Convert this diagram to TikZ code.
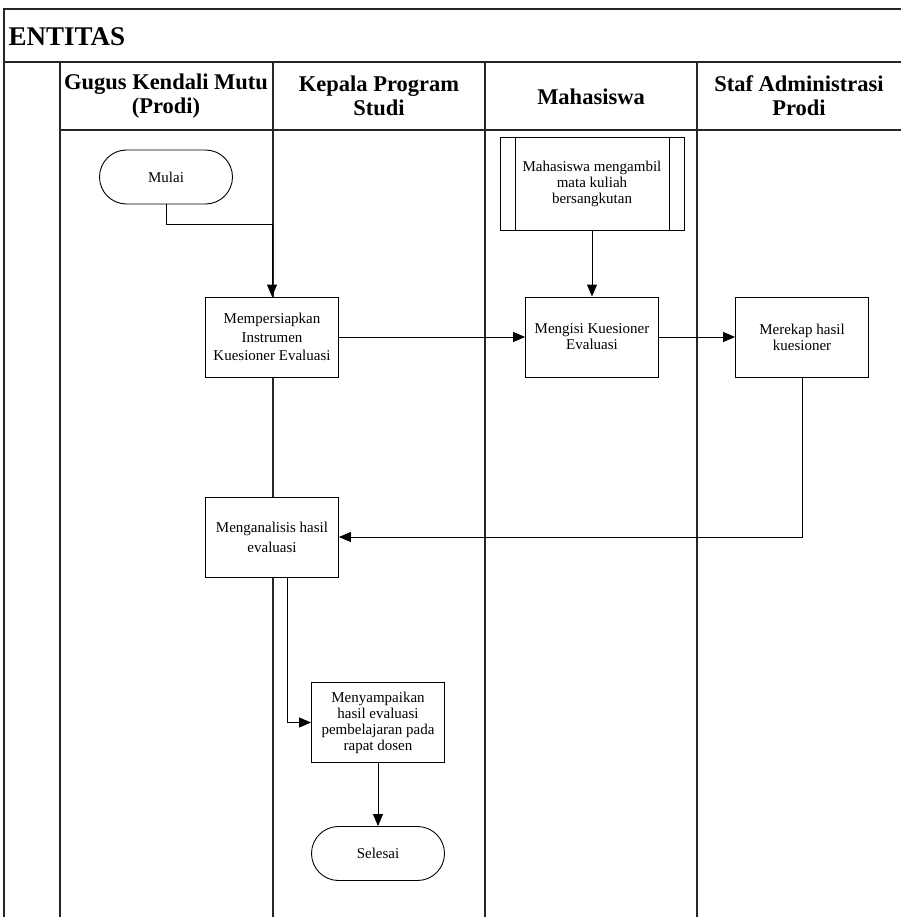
\documentclass[tikz,border=0pt]{standalone}
\usepackage{fontspec}
\setmainfont{Liberation Serif}
\usetikzlibrary{arrows.meta}
\tikzset{
  proses/.style={draw,line width=0.9pt,fill=white,minimum width=133pt,minimum height=80pt,align=center,inner sep=2pt,font=\fontsize{15}{16}\selectfont},
  ujung/.style={proses,minimum height=54pt,rounded corners=27pt},
  panah/.style={line width=0.9pt,-{Triangle[length=12pt,width=10pt]}},
  garis/.style={line width=1.3pt,draw=black!85},
  judul/.style={align=center,font=\fontsize{22.5}{24}\bfseries\selectfont}
}
\begin{document}
\begin{tikzpicture}[x=1pt,y=-1pt]
\useasboundingbox (0,0) rectangle (901,917);
\draw[garis] (901,9) -- (4,9) -- (4,917);
\draw[garis] (4,62) -- (901,62);
\draw[garis] (60,130) -- (901,130);
\foreach \x in {60,273,485,697} \draw[garis] (\x,62) -- (\x,917);

\node[anchor=west,font=\fontsize{27}{27}\bfseries\selectfont] (entitas) at (5,37) {ENTITAS};
\node[judul] (gkm) at (166,96) {Gugus Kendali Mutu\\(Prodi)};
\node[judul] (kps) at (379,96) {Kepala Program\\Studi};
\node[judul] (mhs) at (591,97) {Mahasiswa};
\node[judul] (staf) at (799,96) {Staf Administrasi\\Prodi};

\node[ujung] (mulai) at (166,177) {Mulai};
\node[proses,font=\fontsize{15}{18.5}\selectfont] (siap) at (272,337) {Mempersiapkan\\Instrumen\\Kuesioner Evaluasi};
\node[proses,minimum width=184pt,minimum height=93pt] (ambil) at (592,183.5) {Mahasiswa mengambil\\mata kuliah\\bersangkutan};
\draw[line width=0.9pt] ([xshift=16pt]ambil.north west) -- ([xshift=16pt]ambil.south west);
\draw[line width=0.9pt] ([xshift=-15pt]ambil.north east) -- ([xshift=-15pt]ambil.south east);
\node[proses] (isi) at (592,337) {Mengisi Kuesioner\\Evaluasi};
\node[proses] (rekap) at (802,337) {Merekap hasil\\kuesioner};
\node[proses,font=\fontsize{15}{20}\selectfont] (analisis) at (272,537) {Menganalisis hasil\\evaluasi};
\node[proses] (sampai) at (378,722.5) {Menyampaikan\\hasil evaluasi\\pembelajaran pada\\rapat dosen};
\node[ujung] (selesai) at (378,853.5) {Selesai};

\draw[panah] (mulai.south) -- ++(0,20) -| (siap.north);
\draw[panah] (siap.east) -- (isi.west);
\draw[panah] (ambil.south) -- (isi.north);
\draw[panah] (isi.east) -- (rekap.west);
\draw[panah] (rekap.south) |- (analisis.east);
\draw[panah] ([xshift=15pt]analisis.south) |- (sampai.west);
\draw[panah] (sampai.south) -- (selesai.north);
\end{tikzpicture}
\end{document}
